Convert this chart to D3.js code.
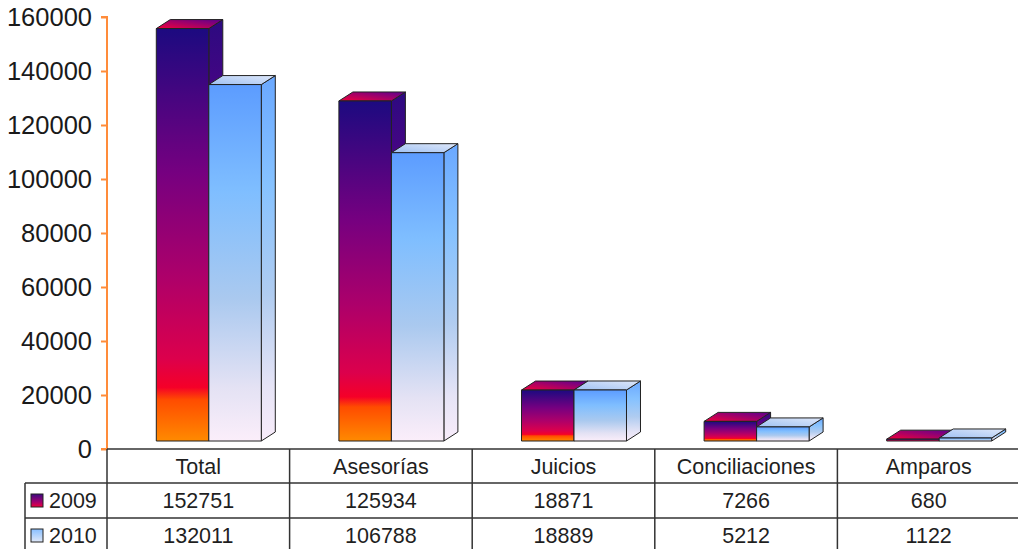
<!DOCTYPE html>
<html>
<head>
<meta charset="utf-8">
<script src="https://cdn.jsdelivr.net/npm/d3@7"></script>
<style>
  html, body { margin: 0; padding: 0; background: #fff; }
  svg { display: block; font-family: "Liberation Sans", Arial, sans-serif; }
</style>
</head>
<body>
<svg id="chart" width="1018" height="549"></svg>
<script>
// Categories and yearly series
const categories = ["Total", "Asesorías", "Juicios", "Conciliaciones", "Amparos"];
const years = ["2009", "2010"];
const values2009 = [152751, 125934, 18871, 7266, 680];
const values2010 = [132011, 106788, 18889, 5212, 1122];
const yTicks = [0, 20000, 40000, 60000, 80000, 100000, 120000, 140000, 160000];

const seriesValues = { "2009": values2009, "2010": values2010 };

const svg = d3.select("#chart");
const W = 1018, H = 549;

// Layout
const plotLeft = 107, plotRight = 1020;
const plotTop = 17, baseY = 449;
const depthX = 14, depthY = 9;   // 3D extrusion
const liftY = 8;                 // front face sits above the axis baseline

const x = d3.scaleBand().domain(categories).range([plotLeft, plotRight]);
const y = d3.scaleLinear().domain([0, 160000]).range([baseY, plotTop]);
const barW = x.bandwidth() * 0.2875;
const xs = d3.scaleBand().domain(years).range([0, barW * 2]);
const pairOffset = x.bandwidth() / 2 + 10.5 - barW;

// Gradients
const defs = svg.append("defs");
function linGrad(id, stops, x1 = 0, y1 = 0, x2 = 0, y2 = 1) {
  const g = defs.append("linearGradient").attr("id", id)
    .attr("x1", x1).attr("y1", y1).attr("x2", x2).attr("y2", y2);
  stops.forEach(([o, c]) => g.append("stop").attr("offset", o).attr("stop-color", c));
}
linGrad("front2009", [[0, "#1c0a80"], [0.35, "#760080"], [0.6, "#ad006a"], [0.8, "#dc004c"],
  [0.87, "#f50028"], [0.9, "#ff4c00"], [1, "#ff8a00"]]);
linGrad("side2009", [[0, "#2c0a80"], [0.35, "#600088"], [0.6, "#900070"], [0.85, "#c00050"], [1, "#e04000"]]);
linGrad("top2009", [[0, "#f2003c"], [1, "#5a0090"]], 0, 1, 1, 0);
linGrad("front2010", [[0, "#5c9cff"], [0.3, "#7fbeff"], [0.6, "#aac9ef"], [0.85, "#e4e2f4"], [1, "#fbeefa"]]);
linGrad("side2010", [[0, "#6aa8ff"], [0.3, "#86c2ff"], [0.6, "#b0ccf0"], [0.85, "#e6e4f6"], [1, "#f8ecfa"]]);
linGrad("top2010", [[0, "#9ec0f2"], [1, "#dfe8fa"]], 0, 1, 1, 0);
linGrad("legend2009", [[0, "#3a0a80"], [0.6, "#a00070"], [1, "#f0003c"]]);
linGrad("legend2010", [[0, "#88bfff"], [1, "#e0e8f8"]]);

// Bars: 2009 drawn first so the 2010 block covers its side face
const bars = svg.append("g").attr("class", "bars");
years.forEach(yr => {
  const vals = seriesValues[yr];
  categories.forEach((cat, i) => {
    const v = vals[i];
    const x0 = x(cat) + pairOffset + xs(yr);
    const x1 = x0 + xs.bandwidth();
    const yb = y(0) - liftY;
    const yt = y(v) - liftY;
    const g = bars.append("g").attr("stroke", "#222").attr("stroke-width", 1).attr("stroke-linejoin", "round");
    // side face
    g.append("path")
      .attr("d", `M${x1},${yt} L${x1 + depthX},${yt - depthY} L${x1 + depthX},${yb - depthY} L${x1},${yb} Z`)
      .attr("fill", `url(#side${yr})`);
    // top face
    g.append("path")
      .attr("d", `M${x0},${yt} L${x0 + depthX},${yt - depthY} L${x1 + depthX},${yt - depthY} L${x1},${yt} Z`)
      .attr("fill", `url(#top${yr})`);
    // front face
    g.append("rect")
      .attr("x", x0).attr("y", yt)
      .attr("width", x1 - x0).attr("height", Math.max(yb - yt, 0.5))
      .attr("fill", `url(#front${yr})`);
  });
});

// Value axis
const axis = d3.axisLeft(y).tickValues(yTicks).tickFormat(d3.format("d")).tickSize(6).tickPadding(9);
const ag = svg.append("g").attr("transform", `translate(${plotLeft},0)`).call(axis);
ag.select(".domain").attr("stroke", "#ff8c3a").attr("stroke-width", 2).attr("d", `M-6,${plotTop}H0V${baseY}H-6`);
ag.selectAll(".tick line").attr("stroke", "#ff8c3a").attr("stroke-width", 2);
ag.selectAll(".tick text").attr("font-size", 25.5).attr("fill", "#1a1a1a")
  .attr("font-family", "'Liberation Sans', Arial, sans-serif");

// Data table
const table = svg.append("g").attr("class", "table");
const rowY = [baseY, 483, 518, 553];
const tableLeft = 25;
const lineColor = "#333";
// horizontal rules
table.append("line").attr("x1", plotLeft).attr("x2", plotRight).attr("y1", rowY[0]).attr("y2", rowY[0])
  .attr("stroke", lineColor).attr("stroke-width", 1.5);
[rowY[1], rowY[2]].forEach(yy => table.append("line").attr("x1", tableLeft).attr("x2", plotRight)
  .attr("y1", yy).attr("y2", yy).attr("stroke", lineColor).attr("stroke-width", 1.5));
// vertical rules
table.append("line").attr("x1", tableLeft).attr("x2", tableLeft).attr("y1", rowY[1]).attr("y2", H)
  .attr("stroke", lineColor).attr("stroke-width", 1.5);
categories.forEach(cat => table.append("line").attr("x1", x(cat)).attr("x2", x(cat))
  .attr("y1", rowY[0]).attr("y2", H).attr("stroke", lineColor).attr("stroke-width", 1.5));

const textStyle = sel => sel.attr("font-size", 21.5).attr("fill", "#1f1f1f")
  .attr("font-family", "'Liberation Sans', Arial, sans-serif");

// header labels
categories.forEach(cat => table.append("text")
  .attr("x", x(cat) + x.bandwidth() / 2).attr("y", (rowY[0] + rowY[1]) / 2 + 7.5)
  .attr("text-anchor", "middle").text(cat).call(textStyle));

// value rows with legend keys
years.forEach((yr, r) => {
  const top = rowY[r + 1], bottom = rowY[r + 2];
  const cy = (top + bottom) / 2;
  table.append("rect").attr("x", 31).attr("y", cy - 6.5).attr("width", 12).attr("height", 13)
    .attr("fill", `url(#legend${yr})`).attr("stroke", "#222").attr("stroke-width", 1);
  table.append("text").attr("x", 49).attr("y", cy + 7.5).text(yr).call(textStyle);
  seriesValues[yr].forEach((v, i) => table.append("text")
    .attr("x", x(categories[i]) + x.bandwidth() / 2).attr("y", cy + 7.5)
    .attr("text-anchor", "middle").text(v).call(textStyle));
});
</script>
</body>
</html>
